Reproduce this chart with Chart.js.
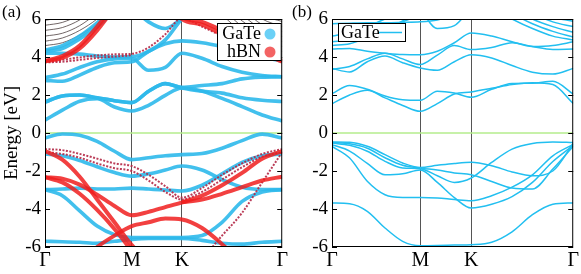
<!DOCTYPE html>
<html>
<head>
<meta charset="utf-8">
<script src="https://cdn.jsdelivr.net/npm/chart.js@4.4.0/dist/chart.umd.min.js"></script>
<style>
  body { margin: 0; background: #fff; font-family: 'Liberation Serif', serif; }
  #wrap { position: relative; width: 581px; height: 274px; }
  canvas { position: absolute; top: 0; }
  #ca { left: 0; }
  #cb { left: 290px; }
  #fontprobe { position: absolute; left: -999px; top: 0; font: 18px 'Liberation Serif'; }
</style>
</head>
<body>
<div id="wrap">
  <canvas id="ca" width="290" height="274"></canvas>
  <canvas id="cb" width="291" height="274"></canvas>
</div>
<div id="fontprobe">Energy ΓMK</div>
<script>
// k path  Γ - M - K - Γ  (hexagonal, segment lengths sqrt3/2 : 1/2 : 1)
const kGrid = [0, 0.173, 0.346, 0.52, 0.693, 0.866, 1.033, 1.2, 1.366, 1.566, 1.766, 1.966, 2.166, 2.366];
const kTicks = [0, 0.866, 1.366, 2.366];
const kLabels = ['Γ', 'M', 'K', 'Γ'];
const energyTicks = [-6, -4, -2, 0, 2, 4, 6];
const N = null;

// (a) GaTe projected bands in GaTe/hBN
const hetGaTe = [
  [-0.26, -0.05, -0.12, -0.44, -0.96, -1.4, -1.3, -1.2, -1.14, -1.08, -0.8, -0.4, -0.06, -0.26],
  [-1.1, -1.2, -1.45, -1.78, -2.08, -2.27, -2.15, -1.95, -1.74, -1.95, -2.45, -2.85, -2.97, -2.98],
  [-2.98, -2.95, -2.9, -2.95, -2.95, -2.9, -2.95, -3.0, -3.05, -2.75, -2.15, -1.55, -1.2, -1.1],
  [-2.98, -3.3, -4.1, -4.9, -5.35, -5.5, -5.5, -5.5, -5.5, -5.4, -4.7, -3.6, -3.1, -2.98],
  [-5.7, -5.72, -5.75, -5.8, -5.7, -5.6, -5.55, -5.55, -5.55, -5.65, -5.8, -5.85, -5.75, -5.7],
  [0.68, 1.2, 1.67, 1.8, 1.37, 1.16, 1.46, 1.98, 2.37, 2.21, 1.82, 1.39, 0.95, 0.63],
  [1.63, 1.95, 2.0, 1.85, 1.7, 1.6, 2.2, 2.6, 2.37, 2.2, 2.1, 1.85, 1.72, 1.66],
  [1.63, 1.95, 2.0, 1.85, 1.7, 1.6, 2.2, 2.6, 2.4, 2.5, 2.6, 2.85, 2.94, 2.96],
  [2.91, 3.1, 3.45, 3.75, 3.9, 3.92, 3.3, 3.45, 4.2, 3.93, 3.5, 3.2, 3.03, 2.96],
  [2.77, 2.72, 3.05, 3.45, 3.7, 3.75, 4.3, 4.7, 4.85, 4.75, 4.55, 4.3, 4.0, 3.8],
  [4.2, 4.2, 4.15, 4.05, 4.0, 4.02, 4.3, 4.9, 6.0, 6.8, N, N, N, N],
  [4.37, 4.6, 5.1, 5.8, 6.6, N, N, N, N, N, N, N, N, N],
  [4.3, 4.45, 4.95, 5.6, 6.4, N, N, N, N, N, N, N, N, N],
  [N, N, N, N, N, 6.6, 5.85, 5.5, 6.05, 7.0, N, N, N, N]
];
// (a) hBN bands, strong weight
const hetBN = [
  [-2.33, -2.4, -2.72, -3.25, -3.84, -4.33, -4.15, -3.9, -3.65, -3.3, -2.75, -2.1, -1.35, -0.95],
  [-2.33, -2.6, -3.2, -4.05, -5.05, -6.2, N, N, -3.65, -3.5, -3.2, -2.85, -2.5, -2.3],
  [N, N, -6.8, -6.0, -5.4, -4.9, -4.7, -4.5, -4.55, -5.0, -5.85, -6.8, N, N],
  [-0.95, -1.4, -2.3, -3.5, -4.7, -5.9, -6.8, N, N, N, N, N, N, N],
  [3.77, 3.95, 4.45, 5.4, 6.6, N, N, 7.0, 6.0, 5.7, 5.2, 4.7, 4.2, 3.75],
  [3.8, 4.05, 4.6, 5.6, 6.8, N, N, 7.0, 6.1, 5.85, 5.4, 4.9, 4.35, 3.8]
];
// (a) mixed GaTe/hBN bands (thin dotted red)
const hetMixed = [
  [-0.85, -0.9, -1.1, -1.35, -1.6, -1.74, -2.2, -2.8, -3.4, -2.9, -2.2, -1.6, -1.1, -0.85],
  [-1.0, -1.1, -1.3, -1.6, -1.85, -2.0, -2.5, -3.1, -3.5, -3.1, -2.45, -1.8, -1.25, -1.0],
  [N, N, N, N, N, N, N, N, -7.5, -6.6, -5.4, -4.2, -2.6, -1.0],
  [3.75, 3.85, 3.98, 4.08, 4.14, 4.17, 4.5, 5.2, 6.05, 5.6, 5.1, 4.6, 4.15, 3.9],
  [3.72, 3.75, 3.85, 3.95, 4.02, 4.09, N, N, N, N, N, N, N, N]
];
// (a) remaining states (thin dark)
const hetOther = [
  [4.6, 4.75, 5.15, 5.75, 6.5, N, N, N, N, N, N, N, N, N],
  [4.83, 5.0, 5.4, 6.0, 6.8, N, N, N, N, N, N, N, N, N],
  [5.1, 5.25, 5.65, 6.3, N, N, N, N, N, N, N, N, N, N],
  [5.4, 5.55, 5.95, 6.6, N, N, N, N, N, N, N, N, N, N],
  [5.67, 5.82, 6.2, N, N, N, N, N, N, N, N, N, N, N],
  [5.93, 6.1, 6.5, N, N, N, N, N, N, N, N, N, N, N],
  [N, N, N, N, N, N, N, N, N, 7.0, 6.2, 5.3, 4.65, 4.3],
  [N, N, N, N, N, N, N, N, N, 7.0, 6.5, 5.6, 4.9, 4.56],
  [N, N, N, N, N, N, N, N, N, 7.0, 6.8, 5.9, 5.2, 4.82],
  [N, N, N, N, N, N, N, N, N, N, 7.0, 6.2, 5.45, 5.08],
  [N, N, N, N, N, N, N, N, N, N, 7.0, 6.5, 5.7, 5.35],
  [N, N, N, N, N, N, N, N, N, N, 7.0, 6.8, 6.0, 5.6],
  [N, N, N, N, N, N, N, N, N, N, N, 7.0, 6.2, 5.87]
];
// (b) free-standing GaTe
const freeGaTe = [
  [-0.47, -0.49, -0.7, -1.14, -1.58, -1.81, -1.7, -1.6, -1.54, -1.72, -2.05, -2.25, -2.0, -0.55],
  [-0.53, -0.65, -0.96, -1.49, -1.84, -1.88, -2.25, -2.6, -2.37, -1.55, -0.85, -0.55, -0.47, -0.5],
  [-0.61, -0.95, -1.6, -2.2, -2.15, -1.95, -2.6, -3.4, -3.95, -3.75, -3.35, -2.6, -1.5, -0.65],
  [-0.7, -1.32, -2.54, -3.25, -3.39, -3.39, -3.42, -3.5, -3.56, -3.3, -2.85, -2.2, -1.2, -0.6],
  [-3.68, -3.72, -4.12, -5.0, -5.7, -5.93, -5.92, -5.9, -5.88, -5.75, -5.2, -4.3, -3.75, -3.68],
  [-0.5, -0.57, -0.8, -1.3, -1.7, -1.85, -1.95, -2.1, -2.2, -2.55, -2.9, -2.95, -1.9, -0.7],
  [2.07, 2.5, 2.3, 1.95, 1.75, 1.72, 2.2, 2.1, 1.88, 2.3, 2.6, 2.62, 2.72, 2.05],
  [1.54, 2.0, 2.25, 1.85, 1.45, 1.14, 1.55, 2.05, 2.16, 2.35, 2.55, 2.65, 2.55, 1.55],
  [3.4, 3.21, 3.75, 4.05, 3.7, 3.42, 3.3, 3.75, 4.12, 3.95, 3.55, 3.2, 3.1, 3.4],
  [3.35, 3.5, 3.9, 4.2, 3.9, 3.6, 4.1, 4.6, 4.39, 4.5, 4.75, 4.55, 4.4, 4.42],
  [4.42, 4.45, 4.3, 4.2, 4.13, 4.12, 4.3, 4.75, 5.26, 5.1, 4.8, 4.55, 4.6, 4.8],
  [4.6, 4.7, 5.0, 5.4, 5.9, 6.4, N, N, N, N, N, N, N, N],
  [4.8, 4.9, 5.15, 5.5, 5.85, 6.2, 6.5, N, N, N, N, N, N, N],
  [5.1, 5.3, 5.6, 6.0, 6.4, N, N, N, N, N, N, N, N, N],
  [5.75, 5.78, 5.8, 5.8, 5.82, 5.85, 5.95, 6.2, N, N, N, N, N, N],
  [N, N, N, N, N, 6.5, 5.5, 5.65, 6.6, N, N, N, N, N],
  [N, N, N, N, N, N, N, N, N, 6.6, 6.0, 5.5, 5.1, 4.9],
  [N, N, N, N, N, N, N, N, N, 7.0, 6.3, 5.75, 5.35, 5.05],
  [N, N, N, N, N, N, N, N, N, N, 6.6, 6.0, 5.6, 5.3],
  [N, N, N, N, N, N, N, N, N, N, 7.0, 6.3, 5.85, 5.6],
  [N, N, N, N, N, N, N, N, N, N, N, 6.6, 6.1, 5.88]
];

const FONT = "'Liberation Serif', 'DejaVu Serif', serif";
const CYAN = '#22bff0';

function toXY(band) {
  return kGrid.map((k, i) => ({ x: k, y: band[i] }));
}

function bandSets(bands, style) {
  return bands.map(b => Object.assign({
    data: toXY(b),
    pointRadius: 0,
    fill: false,
    spanGaps: false,
    cubicInterpolationMode: 'monotone'
  }, style));
}

function zeroLine() {
  return {
    data: [{ x: kTicks[0], y: 0 }, { x: kTicks[3], y: 0 }],
    borderColor: '#b4ec8c', borderWidth: 1.5, pointRadius: 0, order: 9
  };
}

function framePlugin(label, yTitle, legend) {
  return {
    id: 'frame',
    afterDatasetsDraw(chart) {
      const ctx = chart.ctx;
      const a = chart.chartArea;
      const ys = chart.scales.y;
      ctx.save();
      ctx.strokeStyle = '#000';
      ctx.lineWidth = 1;
      ctx.strokeRect(a.left + 0.5, a.top + 0.5, a.right - a.left - 1, a.bottom - a.top - 1);
      energyTicks.forEach(v => {
        const y = Math.round(ys.getPixelForValue(v)) + 0.5;
        ctx.beginPath();
        ctx.moveTo(a.left, y); ctx.lineTo(a.left + 5, y);
        ctx.moveTo(a.right, y); ctx.lineTo(a.right - 5, y);
        ctx.stroke();
      });
      legend(ctx, a);
      ctx.fillStyle = '#000';
      ctx.font = '17px ' + FONT;
      ctx.textAlign = 'left';
      ctx.textBaseline = 'alphabetic';
      ctx.fillText(label, 2, 17);
      if (yTitle) {
        ctx.translate(17, (a.top + a.bottom) / 2);
        ctx.rotate(-Math.PI / 2);
        ctx.textAlign = 'center';
        ctx.font = '19px ' + FONT;
        ctx.fillText(yTitle, 0, 0);
      }
      ctx.restore();
    }
  };
}

function makeOptions(yWidth, padRight) {
  return {
    responsive: false,
    animation: false,
    layout: { padding: { top: 19, right: padRight, left: 0, bottom: 0 } },
    plugins: { legend: { display: false }, tooltip: { enabled: false } },
    scales: {
      x: {
        type: 'linear', min: kTicks[0], max: kTicks[3],
        afterBuildTicks: s => { s.ticks = kTicks.map(v => ({ value: v })); },
        afterFit: s => { s.height = 27; },
        ticks: {
          callback: (v, i) => kLabels[i], autoSkip: false, maxRotation: 0,
          color: '#000', padding: 2, font: { family: FONT, size: 20 }
        },
        grid: {
          drawTicks: false, lineWidth: 1,
          color: c => (c.index === 1 || c.index === 2) ? '#555' : 'rgba(0,0,0,0)'
        },
        border: { display: false }
      },
      y: {
        min: -6, max: 6,
        afterBuildTicks: s => { s.ticks = energyTicks.map(v => ({ value: v })); },
        afterFit: s => { s.width = yWidth; },
        ticks: { color: '#000', padding: 4, font: { family: FONT, size: 19 } },
        grid: { display: false, drawTicks: false },
        border: { display: false }
      }
    }
  };
}

function drawAll() {
  Chart.defaults.font.family = FONT;

  // panel (a)
  new Chart(document.getElementById('ca'), {
    type: 'line',
    data: {
      datasets: [zeroLine()]
        .concat(bandSets(hetOther, { borderColor: 'rgba(70,55,55,0.85)', borderWidth: 0.9, order: 5 }))
        .concat(bandSets(hetGaTe, { borderColor: 'rgba(45,185,235,0.9)', borderWidth: 3.6, order: 4 }))
        .concat(bandSets(hetMixed, { borderColor: 'rgba(180,40,70,0.9)', borderWidth: 2, borderDash: [2, 1.5], order: 2 }))
        .concat(bandSets(hetBN, { borderColor: 'rgba(240,30,30,0.85)', borderWidth: 4, order: 1 }))
    },
    options: makeOptions(45, 4),
    plugins: [framePlugin('(a)', 'Energy [eV]', (ctx, a) => {
      ctx.fillStyle = '#fff';
      ctx.fillRect(217, 23, a.right - 218, 38);
      ctx.strokeRect(217.5, 23.5, a.right - 218.5, 37);
      ctx.fillStyle = '#000';
      ctx.font = '18px ' + FONT;
      ctx.textAlign = 'right';
      ctx.textBaseline = 'middle';
      ctx.fillText('GaTe', 261, 34);
      ctx.fillText('hBN', 261, 52);
      ctx.beginPath(); ctx.arc(270, 34, 5.5, 0, 2 * Math.PI);
      ctx.fillStyle = 'rgba(80,200,245,0.85)'; ctx.fill();
      ctx.beginPath(); ctx.arc(270, 52, 5.5, 0, 2 * Math.PI);
      ctx.fillStyle = 'rgba(240,60,60,0.8)'; ctx.fill();
    })]
  });

  // panel (b)
  new Chart(document.getElementById('cb'), {
    type: 'line',
    data: {
      datasets: [zeroLine()]
        .concat(bandSets(freeGaTe, { borderColor: CYAN, borderWidth: 1.5, order: 3 }))
    },
    options: makeOptions(42, 7),
    plugins: [framePlugin('(b)', null, (ctx, a) => {
      ctx.fillStyle = '#fff';
      ctx.fillRect(48, 23, 67, 18);
      ctx.strokeRect(48.5, 23.5, 67, 18);
      ctx.fillStyle = '#000';
      ctx.font = '18px ' + FONT;
      ctx.textAlign = 'left';
      ctx.textBaseline = 'middle';
      ctx.fillText('GaTe', 51, 33);
      ctx.strokeStyle = CYAN; ctx.lineWidth = 1.5;
      ctx.beginPath(); ctx.moveTo(89, 32.5); ctx.lineTo(112, 32.5); ctx.stroke();
    })]
  });
}

if (document.fonts && document.fonts.load) {
  document.fonts.load("18px 'Liberation Serif'").then(drawAll, drawAll);
} else {
  drawAll();
}
</script>
</body>
</html>
